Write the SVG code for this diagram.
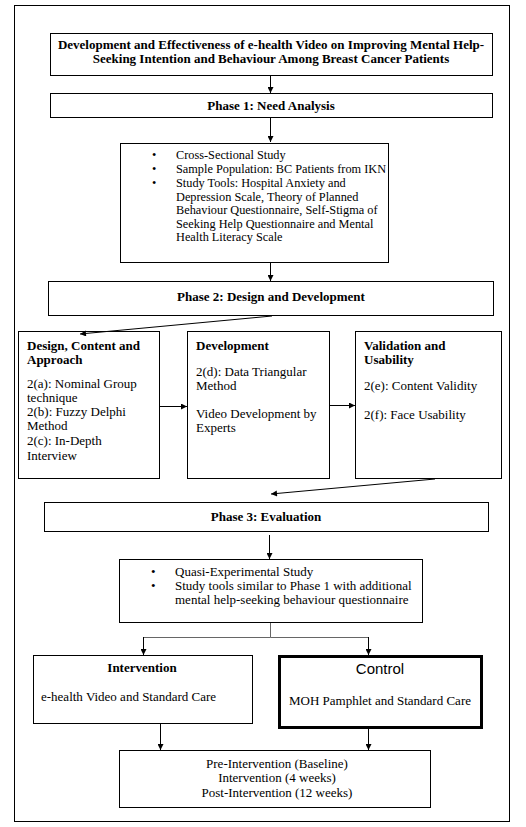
<svg xmlns="http://www.w3.org/2000/svg" width="526" height="827" viewBox="0 0 526 827">
<style>
.box{fill:#fff;stroke:#000;stroke-width:1}
.t{font-family:"Liberation Serif","Times New Roman",serif;font-size:13px;fill:#000}
.s{font-size:12.3px}
.b{font-weight:bold}
.c{text-anchor:middle}
.ln{stroke:#000;stroke-width:1;fill:none}
.ar{marker-end:url(#ah)}
</style>
<defs>
<marker id="ah" viewBox="0 0 10 10" refX="10" refY="5" markerWidth="7" markerHeight="6" markerUnits="userSpaceOnUse" orient="auto">
<path d="M0,0 L10,5 L0,10 z" fill="#000"/>
</marker>
</defs>
<rect width="526" height="827" fill="#fff"/>
<rect id="frame" x="14.5" y="5.5" width="495" height="816" fill="none" stroke="#000" stroke-width="1"/>

<g id="title">
<rect class="box" x="50.5" y="33.5" width="442" height="42"/>
<text class="t b c" x="271" y="49">Development and Effectiveness of e-health Video on Improving Mental Help-</text>
<text class="t b c" x="271" y="63">Seeking Intention and Behaviour Among Breast Cancer Patients</text>
</g>

<g id="phase1">
<rect class="box" x="50.5" y="93.5" width="442" height="24"/>
<text class="t b c" x="271" y="110">Phase 1: Need Analysis</text>
</g>

<g id="p1details">
<rect class="box" x="120.5" y="143.5" width="268" height="119"/>
<g class="t s">
<text x="152" y="159">•</text><text x="176" y="159">Cross-Sectional Study</text>
<text x="152" y="173">•</text><text x="176" y="173">Sample Population: BC Patients from IKN</text>
<text x="152" y="187">•</text><text x="176" y="187">Study Tools: Hospital Anxiety and</text>
<text x="176" y="200.5">Depression Scale, Theory of Planned</text>
<text x="176" y="214">Behaviour Questionnaire, Self-Stigma of</text>
<text x="176" y="227.5">Seeking Help Questionnaire and Mental</text>
<text x="176" y="241">Health Literacy Scale</text>
</g>
</g>

<g id="phase2">
<rect class="box" x="48.5" y="281.5" width="445" height="34"/>
<text class="t b c" x="271" y="301">Phase 2: Design and Development</text>
</g>

<g id="design">
<rect class="box" x="18.5" y="331.5" width="141" height="147"/>
<g class="t">
<text class="b" x="27" y="350">Design, Content and</text>
<text class="b" x="27" y="364">Approach</text>
<text x="27" y="388">2(a): Nominal Group</text>
<text x="27" y="402">technique</text>
<text x="27" y="416">2(b): Fuzzy Delphi</text>
<text x="27" y="430">Method</text>
<text x="27" y="445">2(c): In-Depth</text>
<text x="27" y="460">Interview</text>
</g>
</g>

<g id="development">
<rect class="box" x="187.5" y="331.5" width="142" height="147"/>
<g class="t">
<text class="b" x="196" y="350">Development</text>
<text x="196" y="376">2(d): Data Triangular</text>
<text x="196" y="390">Method</text>
<text x="196" y="418">Video Development by</text>
<text x="196" y="432">Experts</text>
</g>
</g>

<g id="validation">
<rect class="box" x="355.5" y="331.5" width="146" height="147"/>
<g class="t">
<text class="b" x="364" y="350">Validation and</text>
<text class="b" x="364" y="364">Usability</text>
<text x="364" y="390">2(e): Content Validity</text>
<text x="364" y="419">2(f): Face Usability</text>
</g>
</g>

<g id="phase3">
<rect class="box" x="44.5" y="502.5" width="444" height="29"/>
<text class="t b c" x="266" y="521">Phase 3: Evaluation</text>
</g>

<g id="p3details">
<rect class="box" x="119.5" y="559.5" width="303" height="63"/>
<g class="t">
<text x="151" y="576">•</text><text x="175" y="576">Quasi-Experimental Study</text>
<text x="151" y="590">•</text><text x="175" y="590">Study tools similar to Phase 1 with additional</text>
<text x="175" y="604">mental help-seeking behaviour questionnaire</text>
</g>
</g>

<g id="intervention">
<rect class="box" x="33.5" y="655.5" width="219" height="68"/>
<text class="t b c" x="142" y="672">Intervention</text>
<text class="t" x="41" y="701">e-health Video and Standard Care</text>
</g>

<g id="control">
<rect x="279.5" y="656.5" width="202" height="71" fill="#fff" stroke="#000" stroke-width="3"/>
<text class="c" x="380" y="674" font-family="'Liberation Sans',Arial,sans-serif" font-size="15">Control</text>
<text class="t c" x="380" y="705" font-size="13.5">MOH Pamphlet and Standard Care</text>
</g>

<g id="timeline">
<rect class="box" x="119.5" y="750.5" width="311" height="57"/>
<text class="t c" x="277" y="768">Pre-Intervention (Baseline)</text>
<text class="t c" x="277" y="782">Intervention (4 weeks)</text>
<text class="t c" x="277" y="797">Post-Intervention (12 weeks)</text>
</g>

<g id="connectors">
<line class="ln ar" x1="270.5" y1="76" x2="270.5" y2="93"/>
<line class="ln ar" x1="270.5" y1="118" x2="270.5" y2="142"/>
<line class="ln ar" x1="270.5" y1="263" x2="270.5" y2="281"/>
<line class="ln ar" x1="272" y1="316" x2="80" y2="334"/>
<line class="ln ar" x1="160" y1="406.5" x2="187" y2="406.5"/>
<line class="ln ar" x1="330" y1="405.5" x2="355" y2="405.5"/>
<line class="ln ar" x1="435" y1="479" x2="271" y2="494"/>
<line class="ln ar" x1="269.5" y1="535" x2="269.5" y2="559"/>
<path d="M270.5,623 V637.5 H143.5 M270.5,637.5 H368.5" stroke="#666" stroke-width="1" fill="none"/>
<line class="ln ar" x1="143.5" y1="637" x2="143.5" y2="655"/>
<line class="ln ar" x1="368.5" y1="637" x2="368.5" y2="655"/>
<line class="ln ar" x1="160.5" y1="724" x2="160.5" y2="750"/>
<line class="ln ar" x1="368.5" y1="729" x2="368.5" y2="750"/>
</g>
</svg>
